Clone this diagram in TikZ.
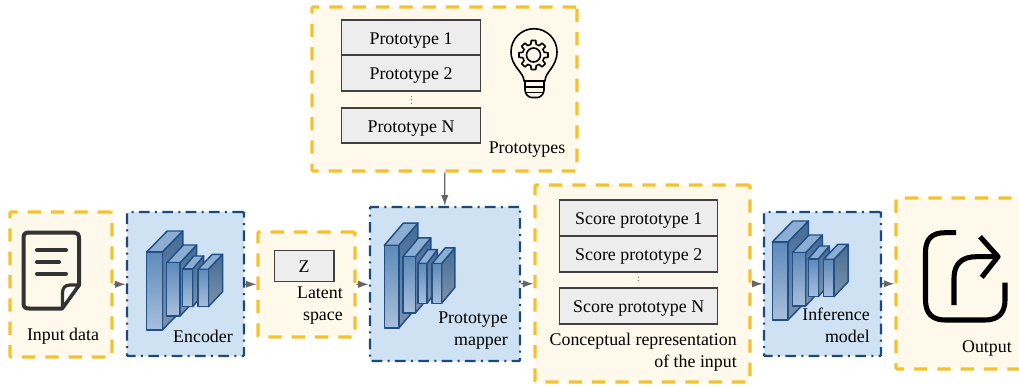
\documentclass[tikz,border=0pt]{standalone}
\usepackage{fontspec}
\setmainfont{Liberation Serif}
\usetikzlibrary{arrows.meta}

\definecolor{paneyellow}{HTML}{F4C22F}
\definecolor{panecream}{HTML}{FFF9EC}
\definecolor{paneblue}{HTML}{CFE2F3}
\definecolor{panenavy}{HTML}{1B4A78}
\definecolor{cubeedge}{HTML}{214F87}
\definecolor{cubelight}{HTML}{A9BFDB}
\definecolor{cubemid}{HTML}{5E8ABA}
\definecolor{cubedark}{HTML}{446C96}
\definecolor{cubegrey}{HTML}{7E93A8}
\definecolor{cubecap}{HTML}{8CAED2}

\tikzset{
    datapane/.style={draw=paneyellow, fill=panecream, line width=2.3pt, dash pattern=on 10pt off 7.5pt, rounded corners=0.8pt, inner sep=0pt},
    modelpane/.style={draw=panenavy, fill=paneblue, line width=1.8pt, dash pattern=on 8pt off 4pt on 1.5pt off 4pt, rounded corners=0.8pt, inner sep=0pt},
    itembox/.style={draw=black!75, fill=black!7, line width=0.9pt, inner sep=0pt, text height=10pt, text depth=0pt, font=\fontsize{13.4}{15}\selectfont},
    paneltext/.style={inner sep=0pt, align=right, font=\fontsize{13.4}{16.5}\selectfont},
    flow/.style={draw=black!60, line width=0.9pt, -{Latex[length=8pt,width=5.5pt]}},
    gapdots/.style={draw=black!55, line width=0.7pt, dotted, shorten >=3pt, shorten <=3pt},
    iconline/.style={draw=black!80, line width=3pt, line cap=round, line join=round},
    bulbline/.style={draw=black, line width=1.2pt, line cap=round, line join=round},
    cubefront/.style={draw=cubeedge, line width=1.1pt, line join=round, top color=cubemid, bottom color=cubelight},
    cubeside/.style={draw=cubeedge, line width=1.1pt, line join=round, top color=cubedark, bottom color=cubegrey},
    cubetop/.style={draw=cubeedge, line width=1.1pt, line join=round, fill=cubecap},
    cnn/.pic={
        \cnnblock{0}{0}{15.6}{78}{20.5}{21}
        \cnnblock{20}{-14}{13.3}{53.3}{16.7}{17.7}
        \cnnblock{36}{-23.3}{10}{37.7}{11}{13}
        \cnnblock{51.3}{-23.3}{10.3}{37.4}{14.3}{15}
    }
}

\newcommand{\cnnblock}[6]{
    \path[cubeside] (#1+#3,#2) -- ++(#5,-#6) -- ++(0,-#4) -- ++(-#5,#6) -- cycle;
    \path[cubetop] (#1,#2-#4) -- ++(#3,0) -- ++(#5,-#6) -- ++(-#3,0) -- cycle;
    \path[cubefront] (#1,#2) rectangle ++(#3,-#4);
}

\begin{document}
\begin{tikzpicture}[x=0.75pt,y=0.75pt,yscale=-1,xscale=1]

    \useasboundingbox (0,0) rectangle (1019,387);
    \clip (0,0) rectangle (1019,387);

    %Panes
    \node[datapane, minimum width=76.5pt, minimum height=108.75pt] (input) at (61,284.5) {};
    \node[modelpane, minimum width=87.75pt, minimum height=108pt] (encoder) at (185.5,284) {};
    \node[datapane, minimum width=72.75pt, minimum height=78.75pt] (latent) at (306.5,284.5) {};
    \node[modelpane, minimum width=112.5pt, minimum height=115.5pt] (mapper) at (445,284) {};
    \node[datapane, minimum width=198.75pt, minimum height=123pt] (prototypes) at (444.5,89) {};
    \node[datapane, minimum width=161.25pt, minimum height=147.75pt] (concept) at (642.5,283.5) {};
    \node[modelpane, minimum width=87.75pt, minimum height=108pt] (inference) at (822.5,284) {};
    \node[datapane, minimum width=105pt, minimum height=128.25pt] (output) at (966,283.5) {};

    %Prototype list
    \node[itembox, minimum width=104.25pt, minimum height=26.25pt] (protoA) at (411,37.5) {Prototype 1};
    \node[itembox, minimum width=104.25pt, minimum height=27pt] (protoB) at (411,73) {Prototype 2};
    \node[itembox, minimum width=104.25pt, minimum height=26.25pt] (protoN) at (411,125.5) {Prototype N};
    \draw[gapdots] (protoB) -- (protoN);

    %Score list
    \node[itembox, minimum width=118.5pt, minimum height=27pt] (scoreA) at (638.7,218) {Score prototype 1};
    \node[itembox, minimum width=118.5pt, minimum height=27pt] (scoreB) at (638.7,254) {Score prototype 2};
    \node[itembox, minimum width=118.5pt, minimum height=27pt] (scoreN) at (638.7,306) {Score prototype N};
    \draw[gapdots] (scoreB) -- (scoreN);

    %Latent vector
    \node[itembox, minimum width=44.75pt, minimum height=23pt] (zvec) at (304.2,266) {Z};

    %Labels
    \node[paneltext] (inputlabel) at (63,336) {Input data};
    \node[paneltext] (encoderlabel) at (203,336) {Encoder};
    \node[paneltext, anchor=east] (latentlabel) at (343,305.5) {Latent\\space};
    \node[paneltext, anchor=east] (mapperlabel) at (508,331) {Prototype\\mapper};
    \node[paneltext] (prototypeslabel) at (527,150) {Prototypes};
    \node[paneltext, anchor=east] (conceptlabel) at (737,352) {Conceptual representation\\of the input};
    \node[paneltext, anchor=east] (outputlabel) at (1012,348) {Output};

    %Networks
    \pic[transform shape] (encodernet) at (146.7,330) {cnn};
    \pic[transform shape,xscale=0.93,yscale=1.06] (mappernet) at (384.3,328) {cnn};
    \pic[transform shape] (inferencenet) at (772.3,320) {cnn};
    \node[paneltext, anchor=east] (inferencelabel) at (870,325) {Inference\\model};

    %Connectors
    \draw[flow] (input) -- (encoder);
    \draw[flow] (encoder) -- (latent);
    \draw[flow] (latent) -- (mapper);
    \draw[flow] (mapper) -- (concept);
    \draw[flow] (concept) -- (inference);
    \draw[flow] (inference) -- (output);
    \draw[flow] (prototypes) -- (mapper);

    %Icon: document
    \draw[iconline, fill=panecream] (79,285) -- (79,238) .. controls (79,234) and (77,232.5) .. (74,232.5) -- (29,232.5) .. controls (25,232.5) and (23.5,234) .. (23.5,238) -- (23.5,303) .. controls (23.5,307) and (25,308.5) .. (29,308.5) -- (62,308.5) -- cycle;
    \draw[iconline, fill=white, line width=2.4pt] (79,285) -- (70,285) .. controls (65,285) and (62.5,288) .. (62.5,293) -- (62.5,308) -- cycle;
    \draw[iconline] (37,250.3) -- (66,250.3);
    \draw[iconline] (37,262.3) -- (59,262.3);
    \draw[iconline] (37,273.7) -- (66,273.7);

    %Icon: bulb
    \draw[bulbline] (524,81) .. controls (524,72) and (511,67) .. (511,51.7) arc[start angle=180,end angle=360,radius=23] .. controls (557,67) and (545,72) .. (545,81) -- cycle;
    \draw[bulbline] (533.5,55) circle (7);
    \draw[bulbline, shift={(533.5,55)}] (-9:14.7) \foreach \a in {0,45,...,315} { -- (\a-9:14.7) -- (\a+9:14.7) -- (\a+14:11) -- (\a+31:11) } -- cycle;
    \draw[bulbline] (525,87) -- (544,87);
    \draw[bulbline] (526,92.5) -- (543,92.5);
    \draw[bulbline, rounded corners=2pt] (525,81) -- (525,92.5) -- (529,97.5) -- (540,97.5) -- (544,92.5) -- (544,81);

    %Icon: share
    \draw[iconline, draw=black, line width=3.8pt, line cap=butt] (956,232.7) -- (945,232.7) .. controls (932,232.7) and (925.5,239) .. (925.5,252) -- (925.5,300) .. controls (925.5,313) and (932,320) .. (945,320) -- (985,320) .. controls (998,320) and (1005,313) .. (1005,300) -- (1005,282.7);
    \draw[iconline, draw=black, line width=3.8pt, line cap=butt] (954,305) -- (954,278) .. controls (954,264) and (962,256.7) .. (976,256.7) -- (997,256.7);
    \draw[iconline, draw=black, line width=3.8pt, line cap=butt, line join=round] (980,236.7) -- (998,256.7) -- (981.7,277.3);

\end{tikzpicture}
\end{document}
